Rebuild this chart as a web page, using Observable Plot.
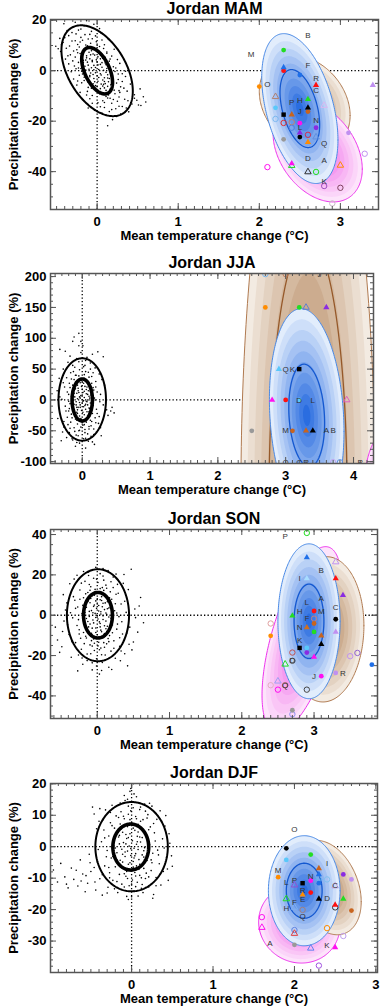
<!DOCTYPE html>
<html><head><meta charset="utf-8">
<script src="https://cdn.jsdelivr.net/npm/d3@7"></script>
<script src="https://cdn.jsdelivr.net/npm/@observablehq/plot@0.6"></script>
<style>
body{margin:0;background:#fff;width:380px;height:1007px;position:relative;overflow:hidden}
.panel{position:absolute;left:0}
</style></head><body>
<div id="p0" class="panel"></div>
<div id="p1" class="panel"></div>
<div id="p2" class="panel"></div>
<div id="p3" class="panel"></div>
<script>
// ---------- titles / labels ----------
const titles = ["Jordan MAM", "Jordan JJA", "Jordan SON", "Jordan DJF"];
const xLabel = "Mean temperature change (°C)";
const yLabel = "Precipitation change (%)";

// ---------- axis domains & tick labels ----------
const mamX = [-0.575, 3.47], mamY = [-55, 20.3];
const jjaX = [-0.468, 4.295], jjaY = [-103, 205];
const sonX = [-0.647, 3.878], sonY = [-51.2, 42.5];
const djfX = [-0.996, 3.02], djfY = [-40, 20.1];
const mamXTicks = [0, 1, 2, 3], mamYTicks = [-40, -20, 0, 20];
const jjaXTicks = [0, 1, 2, 3, 4], jjaYTicks = [-100, -50, 0, 50, 100, 150, 200];
const sonXTicks = [0, 1, 2, 3], sonYTicks = [-40, -20, 0, 20, 40];
const djfXTicks = [0, 1, 2, 3], djfYTicks = [-30, -20, -10, 0, 10, 20];

// ---------- ellipse parameters [cx, cy, sdx, sdy, rho, contourScale] ----------
const mamBlackOuter = [0, 0, 0.44, 18, -0.45], mamBlackInner = [0, 0, 0.19, 9.2, -0.5];
const mamBrown = [2.56, -13, 0.56, 19, -0.25, null];
const mamMagenta = [2.72, -32, 0.55, 20, -0.35, null];
const mamBlue = [2.5, -15, 0.47, 29.7, -0.42, 0.52];

const jjaBlackOuter = [0, 0.8, 0.35, 66.8, 0], jjaBlackInner = [0, 0, 0.15, 34, 0];
const jjaBrown = [3.33, -150, 0.99, 712, 0, 0.58];
const jjaMagenta = [4.5, -150, 0.35, 100, 0, null];
const jjaBlue = [3.31, -25, 0.55, 173, -0.15, 0.48];

const sonBlackOuter = [0.01, 0, 0.43, 22.8, 0], sonBlackInner = [0.01, 0, 0.2, 11.3, 0];
const sonMagenta = [2.83, -12, 0.55, 46, 0.6, null];
const sonBrown = [3.15, -7, 0.54, 36, 0.05, null];
const sonBlue = [2.93, -3, 0.43, 38.4, 0, 0.48];

const djfBlackOuter = [0, 0, 0.445, 14.2, 0], djfBlackInner = [-0.01, -0.1, 0.22, 7.3, 0];
const djfMagenta = [2.06, -24.5, 0.5, 12.5, -0.05, null];
const djfBrown = [2.4, -13, 0.42, 15, -0.3, null];
const djfBlue = [2.12, -14, 0.44, 17.5, 0, 0.5];

// ---------- control-run scatter (x, y) ----------
const mamCloud = [[-0.41,18.6],[-0.33,20.7],[-0.27,19.2],[-0.19,21.3],[-0.13,19.8],[-0.04,18.4],[0.01,20.5],[-0.37,15.9],[-0.29,17.3],[-0.23,16.1],
[-0.16,17.8],[-0.07,15.6],[0.03,16.7],[-0.46,12.8],[-0.35,13.9],[-0.26,14.6],[-0.2,13.2],[-0.11,12.6],[-0.02,13.8],[0.05,14.9],
[-0.51,9.7],[-0.42,11.2],[-0.31,11.8],[-0.24,10.4],[-0.18,12.1],[-0.08,10.9],[-0.01,11.5],[0.09,10.3],[0.14,12.4],
[-0.45,7.6],[-0.38,8.9],[-0.29,7.8],[-0.22,9.4],[-0.15,8.2],[-0.12,9.9],[-0.04,9.1],[0.02,7.7],[0.08,8.8],[0.12,7.4],[0.21,8.5],
[-0.39,4.6],[-0.33,6.3],[-0.27,5.4],[-0.21,6.8],[-0.13,5.9],[-0.09,4.7],[-0.05,6.6],[0.01,5.5],[0.07,4.9],[0.12,6.9],[0.18,5.8],[0.25,4.4],
[-0.35,2.7],[-0.28,1.9],[-0.23,3.3],[-0.17,4.1],[-0.11,2.2],[-0.06,3.6],[-0.01,4.3],[0.04,2.5],[0.1,3.1],[0.15,3.8],[0.2,1.6],[0.28,2.9],
[-0.32,-0.4],[-0.26,0.8],[-0.18,-1.3],[-0.14,0.3],[-0.07,1.2],[-0.02,-0.8],[0.02,0.5],[0.06,1.4],[0.11,-0.6],[0.17,0.2],[0.23,1.1],[0.31,-1.2],
[-0.29,-3.3],[-0.22,-1.8],[-0.16,-3.9],[-0.09,-2.4],[-0.04,-3.1],[0.01,-4.2],[0.05,-1.7],[0.09,-2.8],[0.14,-4.4],[0.19,-2.1],[0.26,-3.5],[0.35,-2.3],
[-0.25,-5.7],[-0.19,-4.8],[-0.11,-6.6],[-0.05,-5.2],[0,-6.3],[0.04,-7.1],[0.08,-5.4],[0.13,-6.2],[0.16,-7.4],[0.24,-4.9],[0.29,-6.4],[0.41,-5.3],
[-0.21,-8.6],[-0.12,-8.2],[-0.06,-9.8],[-0.01,-7.9],[0.06,-9.3],[0.11,-10.2],[0.16,-8.4],[0.22,-9.1],[0.27,-10.4],[0.37,-8.1],[0.46,-9.5],[0.53,-7.2],
[-0.17,-11.6],[-0.09,-11.1],[0.01,-12.7],[0.07,-11.9],[0.13,-10.8],[0.18,-12.9],[0.25,-12.1],[0.34,-11.3],[0.43,-13.2],[0.49,-11.7],[0.57,-10.3],
[-0.11,-14.8],[-0.03,-15.7],[0.09,-14.6],[0.15,-16.2],[0.23,-15.1],[0.31,-14.2],[0.39,-16.3],[0.54,-13.8],
[0.01,-18.7],[0.11,-17.6],[0.19,-19.4],[0.29,-17.2],[0.13,-21.8],
[-0.06,4.1],[0.04,-1.2],[-0.1,7.3],[0.07,-6.1],[-0.15,1.8],[0.12,0.9],[-0.02,1.3],[0.02,-2.7],[-0.08,-0.9],[0.06,3.2],[-0.13,5.1],[0.09,-4.3],[-0.04,2.1],[0,3.4],[0.05,-5.3],[-0.17,3.2],[0.15,-3.1],[-0.07,7.9],[0.11,-7.8],[-0.03,6.2],
[-0.24,7.1],[0.19,-6.7],[-0.11,-4.6],[0.08,5.8],[-0.2,0.9],[0.27,-7.9],[-0.06,12.7],[0.16,-10.9],
[-0.21,11.4],[-0.14,10.2],[-0.06,8.4],[0.03,9.6],[0.1,5.3],[-0.19,5.2],[-0.25,8.3],[0.16,4.6],[0.22,-0.3],[-0.09,-1.9],
[0,-2.1],[0.07,-3.7],[0.13,-1.6],[-0.16,-2.6],[-0.03,-4.4],[0.17,-5.6],[0.21,-7.7],[0.09,-6.8],[-0.07,-6.9],[0.03,-9.1],
[0.14,-9.6],[0.2,-11.4],[0.09,-12.6],[0.28,-8.6],[0.33,-6.9],[0.38,-11.9],[0.04,-14.3],[-0.06,-12.9],[0.27,-14.1],[0.18,-15.4],
[-0.3,3.9],[-0.34,9.8],[-0.4,13.1],[-0.27,11.9],[-0.09,14.4],[-0.2,16.5],[0.06,12.2],[-0.15,14.3],[-0.44,10.3],[-0.31,15.1],
[0,10.1],[-0.12,3.4],[0.04,4.7],[-0.02,-5.9],[0.11,2.4],[-0.19,-0.2],[0.26,-1.3],[0.31,-4.3],[-0.24,-4.1],[-0.13,-9.6],
[0.06,-16.8],[0.24,-18.1],[0.36,-14.8],[0.46,-10.9],[0.51,-13.6],[0.6,-12.4],[-0.36,5.9],[-0.48,8.7],[-0.23,1.1],[0.35,-0.2],
[-0.04,0.4],[0.08,0.2],[-0.1,0.6],[0.13,-2.9],[-0.05,-1.5],[0.01,2.3],[-0.14,4.2],[0.1,-5.1],[-0.08,6.3],[0.05,6.9]];

const jjaCloud = [[-0.05,108],[-0.02,95],[-0.12,102],[0.01,88],[-0.33,82],[-0.25,79],[0.23,78],[0.31,70],[0.15,74],[-0.18,71],
[-0.08,67],[0.05,64],[-0.21,61],[0.12,60],[-0.14,56],[0.02,54],[0.19,52],[-0.28,50],[-0.04,49],[0.09,45],
[-0.17,44],[0.25,42],[-0.09,40],[0.14,38],[-0.23,36],[0.03,35],[-0.12,33],[0.07,31],[0.2,30],[-0.03,28],
[-0.19,27],[0.11,25],[-0.07,24],[0.04,22],[-0.26,21],[0.16,20],[-0.1,18],[0,17],[0.09,15],[-0.15,14],
[0.22,13],[-0.05,12],[0.06,10],[-0.2,9],[0.13,8],[-0.02,7],[-0.11,5],[0.03,4],[0.18,3],[-0.07,2],
[-0.3,1],[0.08,0],[-0.14,-1],[0.01,-2],[0.26,-3],[-0.04,-4],[0.12,-5],[-0.18,-6],[0.05,-7],[-0.09,-8],
[0.16,-9],[-0.25,-10],[0.02,-11],[-0.06,-12],[0.1,-13],[-0.13,-14],[0.21,-15],[0.36,-16],[0.42,-18],[0.47,-21],
[-0.01,-17],[-0.2,-18],[0.07,-19],[-0.08,-20],[0.15,-22],[-0.16,-23],[0.03,-24],[-0.04,-26],[0.11,-27],[-0.22,-28],
[0.19,-29],[-0.1,-31],[0.06,-32],[-0.02,-34],[0.14,-35],[-0.17,-36],[0.24,-38],[-0.07,-39],[0.01,-41],[0.1,-43],
[-0.27,-44],[-0.12,-45],[0.17,-47],[0.04,-48],[-0.05,-50],[0.21,-52],[-0.19,-53],[0.08,-55],[-0.09,-57],[0.13,-59],
[-0.23,-61],[0.02,-63],[-0.14,-65],[0.09,-67],[-0.04,-70],[0.18,-72],[-0.1,-75],[0.05,-78],[-0.31,-66],[0.28,-58],
[-0.03,3],[0.04,-9],[-0.08,11],[0.07,21],[-0.12,-17],[0.1,6],[0,-5],[-0.06,15],[0.02,27],[-0.15,-29],
[0.13,-21],[-0.01,32],[0.06,-36],[-0.09,-3],[0.11,-14],[-0.05,39],[0.17,16],[-0.18,20],[0.03,-40],[-0.07,-22],
[0.08,9],[-0.13,0],[0.15,-11],[-0.02,-30],[0.05,46],[-0.21,-40],[0.19,0],[-0.04,-49],[0.1,37],[-0.11,53],
[0.01,12],[-0.16,6],[0.12,-33],[-0.08,-12],[0.06,-2],[-0.36,-30],[0.33,24],[-0.29,-52],[0.27,-45],[-0.34,35],
[-0.06,19],[0.05,-15],[-0.1,29],[0.09,-25],[0,8],[-0.03,-8],[0.12,14],[-0.12,-7],[0.03,41],[-0.02,-44],
[0.07,-3],[-0.08,-33],[0.14,27],[-0.16,34],[0.04,56],[-0.06,-58],[0.1,-47],[-0.13,46],[0.2,-37],[-0.22,13],
[0.17,-56],[-0.18,-46],[0.01,-20],[-0.01,22],[0.08,-8],[-0.09,-26],[0.11,3],[-0.14,24],[0.22,-22],[-0.24,-18],
[0.02,-1],[-0.04,5],[0.06,17],[-0.07,-16],[0.13,-42],[-0.11,-51],[0.16,44],[-0.2,-2],[0.27,9],[-0.28,28],
[0.05,-62],[-0.05,62],[0,-36],[0.03,14],[-0.1,40],[0.09,-30],[0.25,-27],[-0.27,-35],[0.12,50],[-0.15,-63],
[0.07,69],[-0.02,77],[0.31,-8],[-0.33,5],[0.2,21],[-0.19,-14],[0,29],[0.04,-53],[-0.08,-69],[0.15,-68],
[-0.12,11],[0.1,-19],[-0.03,-12],[0.06,32],[0.38,-25],[0.44,-12],[-0.37,15],[0.29,33],[-0.05,88],[-0.14,95]];

const sonCloud = [[-0.55,-12.3],[-0.48,-8.1],[-0.52,-18.4],[-0.44,2.6],[-0.41,-4.7],[-0.47,10.2],[-0.38,15.6],[-0.36,-20.8],[-0.34,-1.3],[-0.31,7.4],
[-0.3,-13.6],[-0.28,19.8],[-0.27,4.1],[-0.25,-7.2],[-0.24,12.5],[-0.22,-16.9],[-0.21,0.8],[-0.2,-24.3],[-0.19,8.7],[-0.18,-3.5],
[-0.17,16.8],[-0.16,-10.4],[-0.15,3.9],[-0.14,-19.2],[-0.13,11.3],[-0.12,-5.8],[-0.12,21.4],[-0.11,-0.6],[-0.1,6.2],[-0.1,-14.7],
[-0.09,14.1],[-0.08,-8.9],[-0.08,2.3],[-0.07,-27.1],[-0.07,9.6],[-0.06,-2.4],[-0.05,18.3],[-0.05,-11.8],[-0.04,5.1],[-0.04,-17.5],
[-0.03,0.9],[-0.03,12.8],[-0.02,-6.3],[-0.02,23.7],[-0.01,-21.6],[-0.01,3.4],[0,-9.7],[0,8.1],[0.01,-1.9],[0.01,16.2],
[0.02,-13.4],[0.02,4.8],[0.03,-29.2],[0.03,10.9],[0.04,-4.1],[0.04,20.6],[0.05,-16.3],[0.05,1.7],[0.06,7.3],[0.06,-8.2],
[0.07,13.7],[0.07,-23.4],[0.08,-0.3],[0.08,5.9],[0.09,-11.1],[0.09,17.4],[0.1,-5.2],[0.1,2.8],[0.11,-19.7],[0.11,9.8],
[0.12,-2.9],[0.12,14.9],[0.13,-14.2],[0.13,0.4],[0.14,6.7],[0.15,-7.6],[0.15,22.1],[0.16,-25.8],[0.16,3.6],[0.17,-10.1],
[0.18,11.6],[0.19,-1.5],[0.19,-17.8],[0.2,7.9],[0.21,-4.8],[0.22,18.9],[0.23,-12.7],[0.24,2.2],[0.25,-21.3],[0.26,10.4],
[0.27,-6.9],[0.28,15.3],[0.3,-0.7],[0.31,-15.4],[0.33,5.6],[0.35,-9.3],[0.37,20.2],[0.38,-19.1],[0.4,1.4],[0.42,-25.1],
[0.43,12.7],[0.45,-5.9],[0.47,22.8],[0.5,-13.3],[0.52,3.1],[0.56,-8.4],[0.6,8.8],[0.64,-3.7],
[-0.06,1.2],[0.03,-3.3],[-0.1,-4.4],[0.07,4.2],[-0.02,7.1],[0.05,-7.4],[-0.15,-1.6],[0.12,1.1],[-0.08,-12.6],[0.09,12.3],
[0,-0.2],[-0.04,9.9],[0.14,-5.5],[-0.13,6.8],[0.02,-10.8],[0.1,-15.9],[-0.11,15.2],[0.06,-19.6],[-0.19,-8.6],[0.18,3.9],
[-0.07,-15.3],[0.16,-13.1],[-0.17,1.3],[0.04,13.2],[-0.23,-11.4],[0.21,-8.7],[-0.01,-25.2],[0.08,19.4],[-0.14,-22.5],[0.25,5.7],
[-0.28,-5.1],[0.29,10.9],[-0.33,9.2],[0.34,-3.2],[-0.39,-9.6],[0.36,15.8],[-0.26,-19.7],[0.32,-22.6],[-0.46,-2.9],[0.48,-17.2],
[-0.05,4.4],[0.04,-5.8],[-0.09,8.3],[0.08,-2.1],[-0.13,-3.1],[0.11,6.1],[-0.02,-8.6],[0.02,2.1],[-0.16,10.6],[0.15,-11.6],
[-0.07,-6.4],[0.06,9.2],[-0.11,1.9],[0.1,-9.1],[0,5.6],[-0.04,-13.9],[0.13,13.4],[-0.2,4.9],[0.2,-2.6],[-0.18,-14.1],
[0.17,8.6],[-0.22,15.9],[0.23,-16.4],[-0.26,-2.2],[0.27,1.1],[-0.01,17.9],[0.03,-17.1],[-0.3,3.4],[0.31,-11.2],[-0.24,7.9],
[0.22,13.7],[-0.35,-13.1],[0.38,6.9],[-0.42,6.1],[0.41,-8.8],[-0.12,19.7],[0.11,-22.2],[-0.09,-19.1],[0.08,23.1],[-0.32,17.9],
[0.33,-17.7],[-0.21,-21.2],[0.19,16.6],[-0.49,-15.6],[0.53,-1.2],[-0.58,-5.9],[0.58,4.6],[-0.27,-27.6],[0.26,20.4],[-0.05,-3.8],
[0.05,0.6],[-0.15,-11.3],[0.14,3.2],[-0.03,11.6],[0.01,-15.2],[0.09,-13.6],[-0.07,-23.6],[0.06,-27.4],[-0.37,1.2],[0.44,-14.4],
[-0.1,12.4],[0.12,-6.7],[-0.14,-7.9],[0.16,-0.9],[-0.02,-1.1],[0.04,7.7],[-0.25,-9.3],[0.28,-4.4],[-0.19,21.7],[0.2,-26.9]];

const djfCloud = [[-0.96,-7.4],[-0.91,-11.2],[-0.87,-5.3],[-0.82,-9.6],[-0.78,-13.1],[-0.74,-6.8],[-0.71,-10.4],[-0.66,-12.5],[-0.63,-4.2],[-0.6,-8.7],
[-0.57,-14.3],[-0.54,-11.6],[-0.52,-2.4],[-0.5,-7.9],[-0.48,12.6],[-0.46,10.4],[-0.44,-13.8],[-0.42,-4.9],[-0.4,8.1],[-0.39,-10.2],
[-0.37,1.6],[-0.36,-15.4],[-0.34,5.3],[-0.33,-6.1],[-0.32,11.7],[-0.3,-1.2],[-0.29,-12.9],[-0.28,3.4],[-0.27,-8.3],[-0.26,7.6],
[-0.25,-3.6],[-0.24,13.2],[-0.23,-10.7],[-0.22,0.4],[-0.21,5.9],[-0.2,-6.4],[-0.19,9.8],[-0.18,-1.9],[-0.17,-14.6],[-0.16,3.1],
[-0.15,-8.8],[-0.14,7.2],[-0.14,-4.3],[-0.13,11.1],[-0.12,-0.8],[-0.12,-11.9],[-0.11,4.6],[-0.1,-6.7],[-0.1,1.3],[-0.09,8.9],
[-0.08,-3.1],[-0.08,14.7],[-0.07,-9.4],[-0.06,2.6],[-0.06,-15.8],[-0.05,6.4],[-0.05,-1.4],[-0.04,-5.6],[-0.04,10.3],[-0.03,0.2],
[-0.03,-12.4],[-0.02,4.1],[-0.02,17.6],[-0.01,-7.7],[-0.01,-2.8],[0,7.8],[0,19.4],[0.01,-10.6],[0.01,1.9],[0.02,-4.7],
[0.02,12.4],[0.03,-0.5],[0.03,-14.1],[0.04,5.2],[0.04,-8.2],[0.05,9.6],[0.05,-2.2],[0.06,15.9],[0.06,-6.1],[0.07,3.3],
[0.07,-11.3],[0.08,-0.9],[0.08,7.1],[0.09,-4.1],[0.1,11.8],[0.1,-9.1],[0.11,1.5],[0.12,-13.2],[0.12,5.7],[0.13,-2.6],
[0.14,8.6],[0.15,-6.9],[0.16,13.6],[0.16,-0.3],[0.17,-10.1],[0.18,3.8],[0.19,-4.4],[0.2,10.2],[0.21,-12.8],[0.22,0.7],
[0.23,6.3],[0.24,-7.6],[0.25,12.9],[0.26,-2.1],[0.27,-15.2],[0.28,4.4],[0.3,-9.8],[0.31,8.7],[0.32,-1.1],[0.34,-5.4],
[0.35,11.4],[0.36,-12.2],[0.38,2.5],[0.39,-7.9],[0.41,6.6],[0.43,-3.4],[0.45,-10.7],[0.47,1.1],[0.5,-6.2],[0.42,9.9],
[-0.07,3.9],[0.03,-3.6],[-0.11,-4.9],[0.06,0.8],[-0.03,6.9],[0.09,-7.2],[-0.15,0.9],[0.13,2.9],[-0.09,-8.6],[0.11,8.1],
[-0.01,-0.6],[-0.05,-10.1],[0.15,-3.3],[-0.13,5.6],[0.02,-6.5],[0.08,4.7],[-0.19,-3.9],[0.18,-8.4],[-0.04,12.9],[0.05,-12.7],
[-0.23,2.1],[0.21,5.4],[-0.27,-9.9],[0.25,-5.1],[-0.16,9.3],[0.19,9.1],[-0.31,-3.2],[0.29,1.8],[0,-15.9],[-0.09,16.3],
[-0.04,2.9],[0.04,-2.9],[-0.08,-1.7],[0.07,1.6],[-0.12,6.3],[0.1,-5.6],[-0.02,-5.1],[0.02,5.9],[-0.16,-5.8],[0.14,4.9],
[-0.06,-7.9],[0.06,8.9],[-0.1,9.7],[0.12,-9.9],[-0.2,-0.4],[0.2,0.3],[-0.24,6.7],[0.24,-4.2],[-0.18,-11.1],[0.17,11.3],
[-0.28,-6.6],[0.27,7.4],[-0.33,2.8],[0.33,-2.6],[-0.26,10.9],[0.3,-12.4],[-0.36,-8.9],[0.37,8.1],[-0.14,13.9],[0.14,-14.6],
[-0.01,11.4],[0,-11.9],[-0.05,15.1],[0.08,-15.7],[-0.21,-13.4],[0.22,13.8],[-0.41,-0.9],[0.4,-0.4],[-0.43,5.7],[0.44,-7.1],
[-0.3,-14.7],[0.26,-16.4],[-0.39,12.1],[-0.02,8.6],[0.05,-9.3],[-0.11,-2.4],[0.1,3.1],[-0.07,0.9],[0.08,-6.9],[-0.15,3.6],
[0.15,-1.3],[-0.09,-12.8],[0.11,12.6],[-0.23,-3.1],[0.21,-9.6],[-0.46,-6.6],[-0.56,-9.2],[-0.68,-7.5],[-0.8,-11.9],[-0.45,-11.2],
[-0.51,-5.1],[-0.62,-10.9],[0.46,4.1],[0.49,-2.9],[-0.35,8.6],[0.03,16.8],[-0.01,18.5],[0.02,20],[-0.04,-16.8],[0.13,-12]];

// ---------- model markers [type, colour, x, y]  (fc filled circle, ft filled triangle, fs filled square, oc open circle, ot open triangle)
const mamMarkers = [["fc","#22dd22",2.3,8.2],["fc","#ff1010",2.3,0],["ft","#1f6fe8",2.3,1.3],["fc","#1f6fe8",2.5,-1.7],["ft","#ff1010",2.7,-5.7],
["fc","#ff8c00",2.0,-6.3],["ft","#c090f0",3.4,-5.7],["ot","#b08070",2.2,-10.3],["ft","#22dd22",2.6,-11.3],["ot","#d8b8f0",2.8,-13.8],
["fc","#5ac8fa",2.2,-14.7],["ft","#000000",2.6,-14.7],["fc","#c8641e",2.6,-16.2],["fs","#000000",2.3,-17.4],["ft","#c8641e",2.4,-17.4],
["oc","#7ab8f0",2.2,-19.1],["oc","#e03030",2.3,-20.7],["oc","#c08070",2.4,-20.4],["fc","#ff10f0",2.5,-20.8],["oc","#5080e0",2.4,-22.6],
["fc","#8a2be2",2.7,-22.6],["ft","#8a2be2",2.5,-24.6],["fc","#000000",2.5,-26.3],["oc","#d03050",2.6,-25.4],["ot","#6090e0",2.7,-26.3],
["ft","#ff8c00",2.6,-28.3],["fc","#999999",2.3,-27.2],["fc","#c090f0",3.1,-24.6],["oc","#c090f0",3.3,-32.9],["oc","#ff10f0",2.1,-38.2],
["ot","#22dd22",2.4,-37.6],["ft","#ff10f0",2.4,-36.8],["ot","#ff8c00",3.0,-37.5],["ot","#333333",2.6,-40.1],["oc","#22dd22",2.7,-40.1],
["oc","#a050c0",2.8,-45.7],["oc","#804060",3.0,-46.4],["oc","#c8b8c8",2.9,-52.6]];
const mamLetters = [["B",2.6,13.8],["M",1.9,6.3],["F",2.6,2.0],["R",2.7,-2.9],["C",2.7,-7.9],["O",2.1,-5.5],["H",2.5,-11.6],["P",2.4,-12.5],
["J",2.5,-16.3],["N",2.7,-19.7],["L",2.5,-22.6],["Q",2.8,-28.7],["D",2.6,-34.6],["A",2.8,-35.5],["K",2.8,-43.7]];

const jjaMarkers = [["oc","#7ab8f0",2.7,204],["oc","#c08060",3.0,204],["fc","#ff8c00",2.7,150],["fc","#22dd22",3.2,150],["ot","#6080d0",3.3,150],
["ft","#8a2be2",3.6,150],["ft","#5ac8fa",2.9,50],["fs","#000000",3.2,50],["ft","#ff10f0",2.8,0],["fc","#ff1010",3.0,0],["fc","#5ac8fa",3.2,0],
["ot","#e060c0",3.9,0],["fc","#999999",2.5,-50],["fc","#c8641e",3.1,-50],["ft","#c8641e",3.3,-50],["ft","#000000",3.4,-50],
["oc","#6090e0",3.8,-101],["oc","#c0a0f0",3.7,-101]];
const jjaLetters = [["J",3.5,204],["Q",3.0,50],["K",3.1,50],["D",3.2,0],["L",3.4,0],["M",3.0,-50],["A",3.6,-50],["B",3.7,-50],
["O",3.0,-101],["C",3.2,-101],["R",3.3,-101],["P",4.1,-101]];

const sonMarkers = [["oc","#22dd22",2.9,40.8],["ft","#1f6fe8",2.9,28.6],["ot","#c090f0",3.3,26.4],["ft","#ff1010",3.3,18.2],["ft","#a8dcff",2.9,18.2],
["ft","#8a2be2",3.4,9.9],["fc","#ff1010",3.0,2.1],["ft","#22dd22",2.7,-0.3],["fc","#000000",3.3,-2.0],["oc","#c08080",3.0,-1.7],
["fc","#c8641e",3.0,-4.1],["ft","#d07020",2.9,-6.1],["fc","#22dd22",3.0,-8.3],["ft","#c090f0",3.3,-8.3],["ft","#c8641e",3.1,-10.2],
["ft","#000000",3.1,-14.4],["fs","#000000",2.8,-16.2],["fc","#5ac8fa",2.9,-16.2],["fc","#8a2be2",2.9,-18.5],["ft","#ff10f0",3.0,-20.7],
["oc","#c05050",2.7,-18.5],["oc","#555555",2.7,-22.6],["oc","#c090f0",3.5,-20.3],["oc","#9060d0",3.6,-18.7],["fc","#1f6fe8",3.8,-24.5],
["ot","#22dd22",2.6,-24.3],["oc","#e0a0a0",2.4,-4.1],["fc","#ff8c00",2.4,-10.2],["fc","#ff10f0",3.1,-30.2],["fc","#c090f0",3.3,-28.6],
["oc","#e0b0c0",2.4,-34.7],["ot","#a0a0f0",2.5,-32.7],["oc","#ff10f0",2.5,-36.9],["oc","#a06060",2.6,-34.7],["oc","#444444",2.9,-36.9],
["fc","#999999",2.7,-47.1],["oc","#9090f0",2.7,-49.1]];
const sonLetters = [["P",2.6,39.2],["B",3.1,22.3],["I",2.8,18.2],["A",3.1,8.3],["L",2.9,6.1],["C",3.3,3.8],["H",2.8,2.1],["M",3.1,2.1],
["F",2.9,-1.7],["N",2.8,-6.1],["K",2.8,-12.4],["D",2.7,-22.6],["J",3.0,-30.2],["R",3.4,-28.9],["Q",2.6,-34.7]];

const djfMarkers = [["fc","#000000",1.9,-0.5],["fc","#22dd22",2.2,-2.5],["fc","#5ac8fa",1.9,-4.2],["ft","#c8641e",2.3,-6.9],["ft","#1f6fe8",2.3,-8.8],
["ot","#60b0f0",2.3,-10.0],["fc","#1f6fe8",2.3,-11.6],["fc","#8a2be2",2.6,-8.8],["fc","#c090f0",2.7,-10.4],["fc","#ff8c00",1.8,-9.7],
["fc","#ff10f0",2.2,-10.8],["oc","#80c0f0",2.4,-10.4],["ot","#9050d0",2.0,-12.2],["fs","#000000",2.1,-11.6],["ot","#c0a0e0",2.5,-12.5],
["fc","#ff1010",2.2,-14.6],["ft","#ff8c00",2.1,-15.3],["ft","#000000",2.3,-16.6],["ft","#22dd22",2.6,-16.6],["ot","#22dd22",1.9,-16.6],
["ot","#80b0f0",2.0,-19.3],["ft","#ff1010",2.5,-18.5],["oc","#333333",2.5,-19.3],["fc","#c8641e",2.7,-20.3],["oc","#a08080",2.1,-20.1],
["oc","#ff10f0",1.6,-22.4],["ot","#ff10f0",1.6,-25.7],["oc","#ff8c00",2.4,-25.9],["oc","#6080e0",2.0,-26.5],["ot","#e04040",2.0,-27.6],
["oc","#c0a0f0",2.6,-28.4],["fc","#999999",2.0,-31.2],["ot","#6080f0",2.2,-32.3],["ft","#ff10f0",2.5,-32.0],["oc","#a050e0",2.3,-37.8]];
const djfLetters = [["O",2.0,5.5],["I",2.4,-5.3],["M",1.8,-7.4],["N",2.2,-9.5],["L",1.9,-11.4],["P",2.0,-10.6],["C",2.5,-12.2],["R",2.1,-13.8],
["E",2.1,-16.9],["D",2.4,-16.6],["F",2.0,-17.7],["H",1.9,-19.6],["Q",2.1,-22.2],["A",1.7,-30.9],["K",2.4,-31.4]];

// ---------- drawing ----------
const FAM = {
  blue:    {c0: "#e2edfc", c1: "#2a6de0", edge: "#4a8ae6", line: "#1458d0"},
  brown:   {c0: "#f3ebe2", c1: "#ad7a4c", edge: "#b07a50", line: "#96592a"},
  magenta: {c0: "#fde4fb", c1: "#ee5ee6", edge: "#ee33ee", line: "#d020d0"}
};

function ellipsePts(e, s) {
  const [cx, cy, sdx, sdy, rho] = e;
  const k = Math.sqrt(1 - rho * rho);
  return d3.range(0, 241).map(i => {
    const t = 2 * Math.PI * i / 240;
    return {x: cx + s * sdx * Math.cos(t), y: cy + s * sdy * (rho * Math.cos(t) + k * Math.sin(t))};
  });
}

function familyMarks(e, fam) {
  const marks = [];
  const n = 10;
  for (let i = 0; i < n; i++) {
    const s = 1 - i / n;
    const col = d3.interpolateRgb(fam.c0, fam.c1)(i / (n - 1));
    marks.push(Plot.line(ellipsePts(e, s), {x: "x", y: "y", fill: col, stroke: "none", clip: true}));
  }
  marks.push(Plot.line(ellipsePts(e, 1), {x: "x", y: "y", stroke: fam.edge, strokeWidth: 1, clip: true}));
  if (e[5]) marks.push(Plot.line(ellipsePts(e, e[5]), {x: "x", y: "y", stroke: fam.line, strokeWidth: 1.3, clip: true}));
  return marks;
}

function minorTicks(domain, step) {
  const a = Math.ceil(domain[0] / step - 1e-9), b = Math.floor(domain[1] / step + 1e-9);
  return d3.range(a, b + 1).map(k => +(k * step).toFixed(4));
}

function makePanel(cfg) {
  const H = cfg.bottom - cfg.top;
  const W = 380 - 50 - cfg.mr;
  const mb = cfg.mb;
  const xMinor = minorTicks(cfg.xDomain, 0.1);
  const yMinor = minorTicks(cfg.yDomain, cfg.yMinorStep);
  const xMajor = cfg.xTicks.filter(v => v >= cfg.xDomain[0] && v <= cfg.xDomain[1]);
  const yMajor = minorTicks(cfg.yDomain, cfg.yMajorStep);
  const tc = "#555";
  const pick = t => cfg.markers.filter(d => d[0] === t);
  const fam = [];
  for (const [e, name] of cfg.families) fam.push(...familyMarks(e, FAM[name]));
  const svg = Plot.plot({
    width: 380, height: 19 + H + mb,
    marginTop: 19, marginBottom: mb, marginLeft: 50, marginRight: cfg.mr,
    x: {domain: cfg.xDomain, axis: null},
    y: {domain: cfg.yDomain, axis: null},
    color: {type: "identity"},
    style: {fontFamily: "'Liberation Sans', Arial, sans-serif", fontSize: "13px", fontWeight: "bold", background: "transparent", overflow: "visible"},
    marks: [
      Plot.ruleX([0], {stroke: "#000", strokeWidth: 1.3, strokeDasharray: "1.3,2.2"}),
      Plot.ruleY([0], {stroke: "#000", strokeWidth: 1.3, strokeDasharray: "1.3,2.2"}),
      ...fam,
      Plot.dot(cfg.cloud, {x: d => d[0], y: d => d[1], r: 0.8, fill: "#000", stroke: "none", clip: true}),
      Plot.line(ellipsePts(cfg.outer, 1), {x: "x", y: "y", stroke: "#000", strokeWidth: 2, clip: true}),
      Plot.line(ellipsePts(cfg.inner, 1), {x: "x", y: "y", stroke: "#000", strokeWidth: 3.6, clip: true}),
      Plot.dot(pick("oc"), {x: d => d[2], y: d => d[3], stroke: d => d[1], fill: "none", r: 2.7, strokeWidth: 1, clip: true}),
      Plot.dot(pick("ot"), {x: d => d[2], y: d => d[3], stroke: d => d[1], fill: "none", symbol: "triangle", r: 2.4, strokeWidth: 1, clip: true}),
      Plot.dot(pick("fc"), {x: d => d[2], y: d => d[3], fill: d => d[1], stroke: "none", r: 2.4, clip: true}),
      Plot.dot(pick("ft"), {x: d => d[2], y: d => d[3], fill: d => d[1], stroke: "none", symbol: "triangle", r: 2.3, clip: true}),
      Plot.dot(pick("fs"), {x: d => d[2], y: d => d[3], fill: d => d[1], stroke: "none", symbol: "square", r: 2.5, clip: true}),
      Plot.text(cfg.letters, {x: d => d[1], y: d => d[2], text: d => d[0], fontSize: 8, fontWeight: "normal", fill: "#333", clip: true}),
      // inward tick marks on all four sides
      Plot.tickX(xMinor, {x: d => d, insetTop: H - 3, stroke: tc}),
      Plot.tickX(xMinor, {x: d => d, insetBottom: H - 3, stroke: tc}),
      Plot.tickX(xMajor, {x: d => d, insetTop: H - 6, stroke: tc}),
      Plot.tickX(xMajor, {x: d => d, insetBottom: H - 6, stroke: tc}),
      Plot.tickY(yMinor, {y: d => d, insetRight: W - 3, stroke: tc}),
      Plot.tickY(yMinor, {y: d => d, insetLeft: W - 3, stroke: tc}),
      Plot.tickY(yMajor, {y: d => d, insetRight: W - 6, stroke: tc}),
      Plot.tickY(yMajor, {y: d => d, insetLeft: W - 6, stroke: tc}),
      Plot.frame({stroke: "#555", strokeWidth: 1.5}),
      // tick labels
      Plot.text(cfg.xTicks, {x: d => d, frameAnchor: "bottom", dy: 12.5, lineAnchor: "middle", textAnchor: "middle", text: d => String(d), fill: "#000"}),
      Plot.text(cfg.yTicks, {y: d => d, frameAnchor: "left", dx: -4, lineAnchor: "middle", textAnchor: "end", text: d => String(d), fill: "#000"}),
      // axis titles and panel title
      Plot.text([xLabel], {frameAnchor: "bottom", dy: 26, lineAnchor: "middle", textAnchor: "middle", text: d => d, fill: "#000"}),
      Plot.text([yLabel], {frameAnchor: "left", dx: -37, rotate: -90, lineAnchor: "middle", textAnchor: "middle", text: d => d, fill: "#000"}),
      Plot.text([cfg.title], {frameAnchor: "top", dy: -11, lineAnchor: "middle", textAnchor: "middle", text: d => d, fontSize: 16, fill: "#000"})
    ]
  });
  const host = document.getElementById(cfg.id);
  host.style.top = (cfg.top - 19) + "px";
  host.appendChild(svg);
}

makePanel({id: "p0", title: titles[0], top: 19, bottom: 209, mr: 2, mb: 36,
  xDomain: mamX, yDomain: mamY, xTicks: mamXTicks, yTicks: mamYTicks, yMinorStep: 5, yMajorStep: 20,
  cloud: mamCloud, outer: mamBlackOuter, inner: mamBlackInner,
  families: [[mamBrown, "brown"], [mamMagenta, "magenta"], [mamBlue, "blue"]],
  markers: mamMarkers, letters: mamLetters});
makePanel({id: "p1", title: titles[1], top: 273, bottom: 463, mr: 7, mb: 36,
  xDomain: jjaX, yDomain: jjaY, xTicks: jjaXTicks, yTicks: jjaYTicks, yMinorStep: 10, yMajorStep: 50,
  cloud: jjaCloud, outer: jjaBlackOuter, inner: jjaBlackInner,
  families: [[jjaBrown, "brown"], [jjaMagenta, "magenta"], [jjaBlue, "blue"]],
  markers: jjaMarkers, letters: jjaLetters});
makePanel({id: "p2", title: titles[2], top: 529, bottom: 718, mr: 3, mb: 36,
  xDomain: sonX, yDomain: sonY, xTicks: sonXTicks, yTicks: sonYTicks, yMinorStep: 5, yMajorStep: 20,
  cloud: sonCloud, outer: sonBlackOuter, inner: sonBlackInner,
  families: [[sonMagenta, "magenta"], [sonBrown, "brown"], [sonBlue, "blue"]],
  markers: sonMarkers, letters: sonLetters});
makePanel({id: "p3", title: titles[3], top: 783, bottom: 972, mr: 3, mb: 34,
  xDomain: djfX, yDomain: djfY, xTicks: djfXTicks, yTicks: djfYTicks, yMinorStep: 2, yMajorStep: 10,
  cloud: djfCloud, outer: djfBlackOuter, inner: djfBlackInner,
  families: [[djfMagenta, "magenta"], [djfBrown, "brown"], [djfBlue, "blue"]],
  markers: djfMarkers, letters: djfLetters});
</script>
</body></html>
